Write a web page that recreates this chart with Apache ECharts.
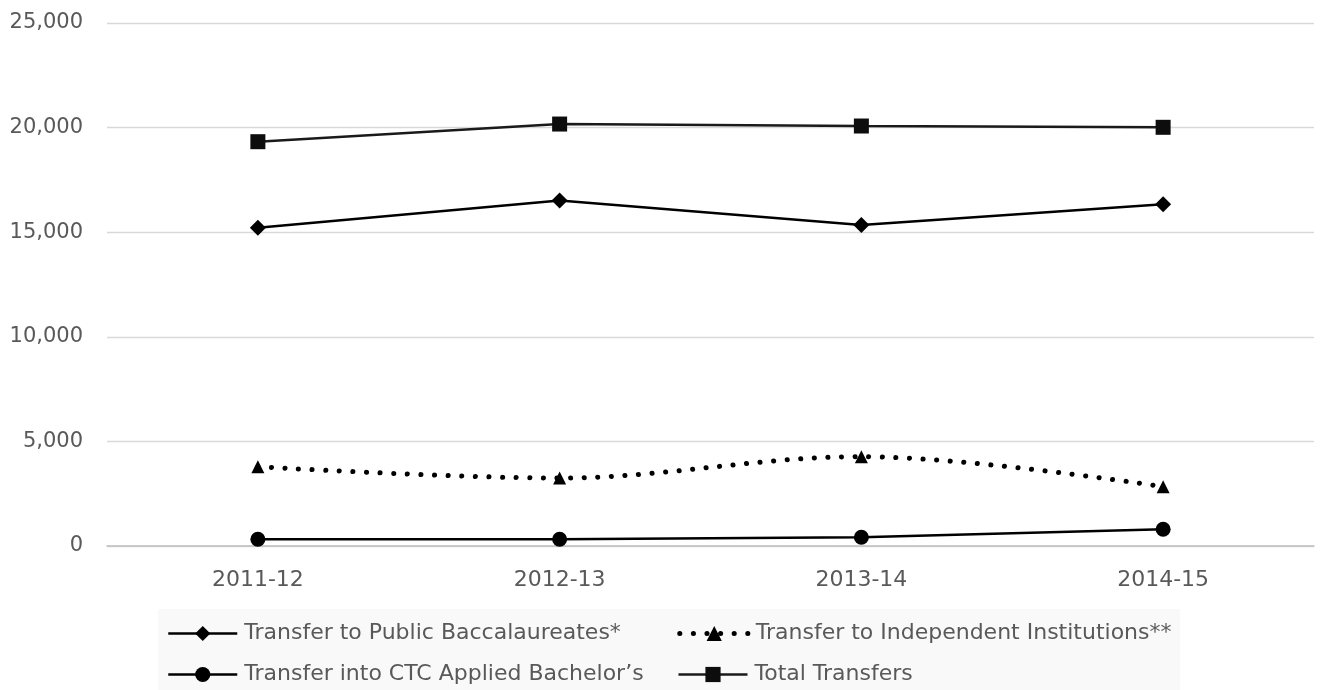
<!DOCTYPE html>
<html>
<head>
<meta charset="utf-8">
<script src="https://cdn.jsdelivr.net/npm/echarts@6/dist/echarts.min.js"></script>
<style>
html,body{margin:0;padding:0;background:#fff;}
#chart{width:1320px;height:690px;}
</style>
</head>
<body>
<div id="chart"></div>
<script>
const categories = ['2011-12', '2012-13', '2013-14', '2014-15'];
const publicBacc = [15215, 16515, 15344, 16333];
const independent = [3791, 3250, 4270, 2835];
const ctcApplied = [320, 320, 416, 798];
const totalTransfers = [19326, 20170, 20076, 20014];
const seriesNames = ['Transfer to Public Baccalaureates*', 'Transfer to Independent Institutions**', "Transfer into CTC Applied Bachelor\u2019s", 'Total Transfers'];
const yMin = 0, yMax = 25000, yStep = 5000;

const FONT = 'DejaVu Sans';
const chart = echarts.init(document.getElementById('chart'));
chart.setOption({
  animation: false,
  backgroundColor: '#ffffff',
  graphic: [{
    type: 'rect', z: 0, silent: true,
    shape: { x: 158, y: 609, width: 1022, height: 81 },
    style: { fill: '#f9f9f9' }
  }],
  grid: { left: 107, right: 6, top: 23, bottom: 144, containLabel: false },
  legend: {
    data: seriesNames,
    left: 167, top: 617, width: 1100,
    padding: 0,
    itemWidth: 69, itemHeight: 19, itemGap: 8,
    lineStyle: { width: 'inherit' },
    textStyle: { fontFamily: FONT, fontSize: 22, color: '#595959', width: 425, lineHeight: 33, padding: [0, 0, 0, 2] }
  },
  xAxis: {
    type: 'category',
    data: categories,
    boundaryGap: true,
    axisLine: { show: true, lineStyle: { color: '#bfbfbf', width: 1.5 } },
    axisTick: { show: false },
    axisLabel: { fontFamily: FONT, fontSize: 22, color: '#595959', margin: 23 }
  },
  yAxis: {
    type: 'value',
    min: yMin, max: yMax, interval: yStep,
    axisLine: { show: false },
    axisTick: { show: false },
    splitLine: { lineStyle: { color: '#d9d9d9', width: 1.3 } },
    axisLabel: {
      fontFamily: FONT, fontSize: 21, color: '#595959', margin: 24,
      formatter: v => v.toLocaleString('en-US')
    }
  },
  series: [
    {
      name: seriesNames[0], type: 'line', data: publicBacc,
      symbol: 'diamond', symbolSize: 16,
      itemStyle: { color: '#000000' },
      lineStyle: { color: '#000000', width: 2.5 }
    },
    {
      name: seriesNames[1], type: 'line', data: independent,
      symbol: 'triangle', symbolSize: 13, smooth: 0.35,
      itemStyle: { color: '#000000' },
      lineStyle: { color: '#000000', width: 5, type: [0.1, 13.5], cap: 'round' }
    },
    {
      name: seriesNames[2], type: 'line', data: ctcApplied,
      symbol: 'circle', symbolSize: 15,
      itemStyle: { color: '#000000' },
      lineStyle: { color: '#000000', width: 2.5 }
    },
    {
      name: seriesNames[3], type: 'line', data: totalTransfers,
      symbol: 'rect', symbolSize: 15,
      itemStyle: { color: '#0d0d0d' },
      lineStyle: { color: '#1a1a1a', width: 2.5 }
    }
  ]
});
</script>
</body>
</html>
